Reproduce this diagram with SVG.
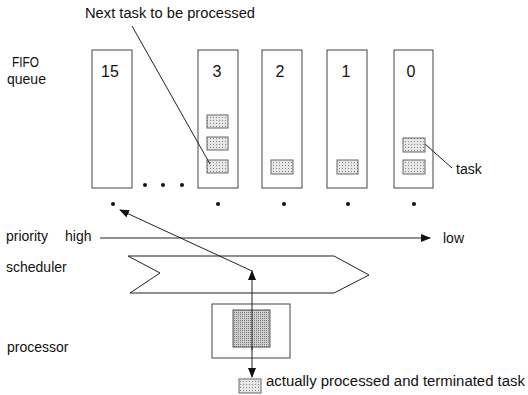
<svg xmlns="http://www.w3.org/2000/svg" width="528" height="395" viewBox="0 0 528 395">
<style>
text{font-family:"Liberation Sans",Arial,sans-serif;font-size:14px;fill:#111}
.q{fill:#fff;stroke:#444;stroke-width:1}
.t{fill:url(#dots);stroke:#666;stroke-width:1}
.ln{stroke:#222;stroke-width:1;fill:none}
.dot{fill:#111}
.num{font-size:16px;text-anchor:middle}
</style>
<defs>
<pattern id="dots" width="3" height="3" patternUnits="userSpaceOnUse">
<rect width="3" height="3" fill="#e6e6e6"/>
<rect width="1" height="1" fill="#888"/>
</pattern>
<pattern id="dots2" width="2" height="2" patternUnits="userSpaceOnUse">
<rect width="2" height="2" fill="#d0d0d0"/>
<rect width="1" height="1" fill="#777"/>
</pattern>
<marker id="ah" markerWidth="10" markerHeight="8" refX="9" refY="4" orient="auto" markerUnits="userSpaceOnUse">
<path d="M0,0 L10,4 L0,8 Z" fill="#111"/>
</marker>
</defs>

<g id="labels">
<text x="85" y="18" textLength="170" lengthAdjust="spacingAndGlyphs">Next task to be processed</text>
<text x="12" y="67" font-size="13.5" textLength="27" lengthAdjust="spacingAndGlyphs">FIFO</text>
<text x="7" y="84" font-size="13">queue</text>
<text x="6" y="241">priority</text>
<text x="65" y="241">high</text>
<text x="443" y="243">low</text>
<text x="6" y="272">scheduler</text>
<text x="7" y="352">processor</text>
<text x="266" y="386" textLength="259" lengthAdjust="spacingAndGlyphs">actually processed and terminated task</text>
<text x="456" y="174">task</text>
</g>

<g id="queue15"><rect class="q" x="92" y="50" width="40" height="138"/><text class="num" x="110" y="77">15</text></g>
<g id="queue3"><rect class="q" x="198" y="50" width="40" height="138"/><text class="num" x="217" y="77">3</text>
<rect class="t" x="207" y="115" width="21" height="13"/>
<rect class="t" x="207" y="137" width="21" height="13"/>
<rect class="t" x="207" y="160" width="21" height="13"/>
</g>
<g id="queue2"><rect class="q" x="262" y="50" width="40" height="138"/><text class="num" x="280" y="77">2</text>
<rect class="t" x="271" y="160" width="22" height="14"/>
</g>
<g id="queue1"><rect class="q" x="327" y="50" width="40" height="138"/><text class="num" x="346" y="77">1</text>
<rect class="t" x="337" y="160" width="21" height="14"/>
</g>
<g id="queue0"><rect class="q" x="394" y="50" width="39" height="138"/><text class="num" x="411" y="77">0</text>
<rect class="t" x="403" y="138" width="22" height="14"/>
<rect class="t" x="403" y="160" width="22" height="14"/>
</g>

<g id="dots">
<circle class="dot" cx="145" cy="185" r="2"/>
<circle class="dot" cx="163" cy="185" r="2"/>
<circle class="dot" cx="182" cy="185" r="2"/>
<circle class="dot" cx="113" cy="204" r="2"/>
<circle class="dot" cx="218" cy="204" r="2"/>
<circle class="dot" cx="284" cy="204" r="2"/>
<circle class="dot" cx="348" cy="204" r="2"/>
<circle class="dot" cx="414" cy="204" r="2"/>
</g>

<g id="scheduler">
<path class="ln" d="M128,256 L334,256 L369,275 L334,293 L130,293 L160,273 Z" fill="#fff"/>
</g>

<g id="processor">
<rect class="q" x="212" y="304" width="78" height="54"/>
<rect x="233" y="310" width="37" height="37" fill="url(#dots2)" stroke="#555"/>
</g>

<g id="done-task">
<rect class="t" x="239" y="379" width="22" height="14"/>
</g>

<g id="connectors">
<line class="ln" x1="132" y1="26" x2="210" y2="164"/>
<line class="ln" x1="425" y1="144" x2="452" y2="168"/>
<line class="ln" x1="100" y1="238" x2="430" y2="238" marker-end="url(#ah)"/>
<line class="ln" x1="252" y1="350" x2="252" y2="271" marker-end="url(#ah)"/>
<line class="ln" x1="252" y1="271" x2="120" y2="210" marker-end="url(#ah)"/>
<line class="ln" x1="252" y1="347" x2="252" y2="377" marker-end="url(#ah)"/>
</g>
</svg>
